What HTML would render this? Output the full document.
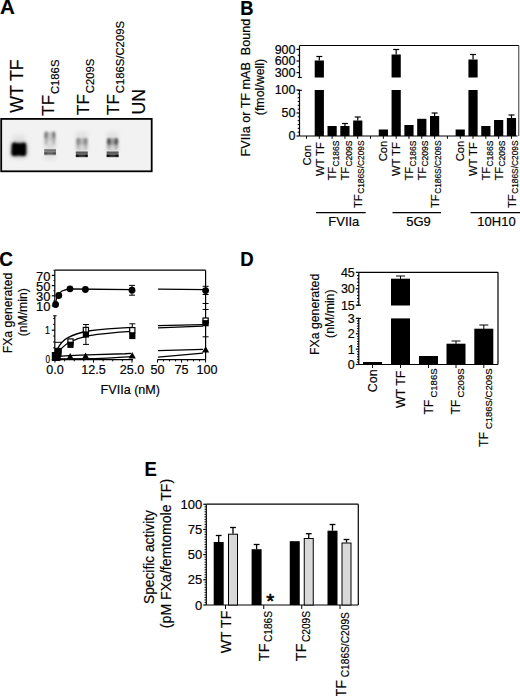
<!DOCTYPE html>
<html><head><meta charset="utf-8"><style>
html,body{margin:0;padding:0;background:#fff;}
svg{display:block;}
text{font-family:"Liberation Sans", sans-serif;fill:#000;stroke:#000;stroke-width:0.18px;}
</style></head><body>
<svg width="520" height="696" viewBox="0 0 520 696">
<defs><filter id="blur1" x="-30%" y="-30%" width="160%" height="160%"><feGaussianBlur stdDeviation="0.95"/></filter><filter id="blur2" x="-50%" y="-50%" width="200%" height="200%"><feGaussianBlur stdDeviation="2"/></filter><filter id="blur3" x="-30%" y="-30%" width="160%" height="160%"><feGaussianBlur stdDeviation="0.6"/></filter>
<linearGradient id="gl3" x1="0" y1="0" x2="0" y2="1">
<stop offset="0" stop-color="#d4d4d4" stop-opacity="0"/>
<stop offset="0.17" stop-color="#707070"/>
<stop offset="0.33" stop-color="#4c4c4c"/>
<stop offset="0.48" stop-color="#808080"/>
<stop offset="0.69" stop-color="#1c1c1c"/>
<stop offset="0.86" stop-color="#555"/>
<stop offset="1" stop-color="#efefef" stop-opacity="0"/>
</linearGradient>
<linearGradient id="gl2" x1="0" y1="0" x2="0" y2="1">
<stop offset="0" stop-color="#d8d8d8" stop-opacity="0"/>
<stop offset="0.16" stop-color="#8c8c8c"/>
<stop offset="0.28" stop-color="#707070"/>
<stop offset="0.44" stop-color="#8a8a8a"/>
<stop offset="0.64" stop-color="#5a5a5a"/>
<stop offset="0.84" stop-color="#9a9a9a"/>
<stop offset="1" stop-color="#e0e0e0" stop-opacity="0"/>
</linearGradient></defs>
<rect width="520" height="696" fill="#fff"/>
<text transform="translate(0.0,14.3)" font-size="20.5" text-anchor="start" font-weight="bold" >A</text>
<text transform="translate(23.4,112.8) rotate(-90)" font-size="17.7" text-anchor="start" >WT TF</text>
<text transform="translate(54.2,115.7) rotate(-90)" font-size="17" >TF<tspan font-size="11.3" dy="5.0" dx="0.8">C186S</tspan></text>
<text transform="translate(89.0,115.0) rotate(-90)" font-size="17" >TF<tspan font-size="11.3" dy="4.7" dx="1.0">C209S</tspan></text>
<text transform="translate(119.0,115.0) rotate(-90)" font-size="17" >TF<tspan font-size="11.3" dy="5.3" dx="1.0">C186S/C209S</tspan></text>
<text transform="translate(144.5,114.4) rotate(-90)" font-size="17.7" text-anchor="start" >UN</text>
<rect x="1.2" y="118.9" width="150.5" height="52.4" fill="#f2f2f2" stroke="#000" stroke-width="1.8"/>
<g filter="url(#blur2)">
<rect x="13" y="135" width="12" height="8" fill="#e2e2e2"/>
<rect x="11" y="142" width="16" height="15" rx="3" fill="#a0a0a0"/>
<rect x="44.5" y="140" width="11" height="9" fill="#d8d8d8"/>
<rect x="44.5" y="155" width="11" height="4" fill="#dcdcdc"/>
<rect x="76" y="132" width="11.5" height="6" fill="#e0e0e0"/>
<rect x="76" y="145" width="11.5" height="6" fill="#d0d0d0"/>
<rect x="107" y="132" width="11" height="6" fill="#e0e0e0"/>
<rect x="107" y="145" width="11" height="6" fill="#cccccc"/>
</g>
<g filter="url(#blur1)">
<path d="M11.8,145.5 Q11.8,142.6 14.4,142.6 Q19,144.2 24,142.4 Q26.2,142.8 26.2,146 L26.2,153 Q26.2,156 23.6,156 Q19,154.8 14.2,156 Q11.4,156 11.4,153 Z" fill="#000"/>
<rect x="44.5" y="132" width="11" height="9" fill="#c8c8c8"/>
<ellipse cx="46.1" cy="138" rx="1.6" ry="7" fill="#b0b0b0"/>
<ellipse cx="53.7" cy="138" rx="1.6" ry="7" fill="#b0b0b0"/>
<ellipse cx="46.1" cy="135" rx="1.7" ry="3.6" fill="#7a7a7a"/>
<ellipse cx="53.7" cy="135" rx="1.7" ry="3.6" fill="#7a7a7a"/>
<rect x="76.2" y="138" width="11.4" height="7.5" fill="#bcbcbc"/>
<ellipse cx="78.1" cy="144" rx="1.6" ry="6" fill="#b4b4b4"/>
<ellipse cx="85.7" cy="144" rx="1.6" ry="6" fill="#b4b4b4"/>
<ellipse cx="78.3" cy="141.3" rx="2" ry="3.6" fill="#8a8a8a"/>
<ellipse cx="85.5" cy="141.3" rx="2" ry="3.6" fill="#8a8a8a"/>
<rect x="107" y="138.3" width="11" height="7.2" fill="#a0a0a0"/>
<ellipse cx="108.8" cy="144" rx="1.6" ry="6" fill="#a8a8a8"/>
<ellipse cx="116.4" cy="144" rx="1.6" ry="6" fill="#a8a8a8"/>
<ellipse cx="108.9" cy="141.6" rx="2" ry="3.5" fill="#555"/>
<ellipse cx="116.3" cy="141.6" rx="2" ry="3.5" fill="#555"/>
</g>
<g filter="url(#blur3)">
<rect x="44.2" y="148.2" width="11.8" height="8" fill="url(#gl2)"/>
<ellipse cx="45.8" cy="153.3" rx="1.5" ry="1.4" fill="#222" opacity="0.3"/>
<ellipse cx="54.2" cy="153.3" rx="1.5" ry="1.4" fill="#222" opacity="0.3"/>
<rect x="75.8" y="150.5" width="12" height="7.5" fill="url(#gl3)"/>
<ellipse cx="77.3" cy="155.8" rx="1.6" ry="1.3" fill="#000" opacity="0.6"/>
<ellipse cx="86.3" cy="155.8" rx="1.6" ry="1.3" fill="#000" opacity="0.6"/>
<rect x="106.6" y="150.5" width="12" height="7.5" fill="url(#gl3)"/>
<ellipse cx="108.1" cy="155.8" rx="1.6" ry="1.3" fill="#000" opacity="0.6"/>
<ellipse cx="117.1" cy="155.8" rx="1.6" ry="1.3" fill="#000" opacity="0.6"/>
</g>
<text transform="translate(240.3,15.0) scale(0.92,1)" font-size="20" text-anchor="start" font-weight="bold" >B</text>
<text transform="translate(250.0,87.6) rotate(-90) scale(1.05,1)" font-size="12.0" text-anchor="middle" >FVIIa or TF mAB&#160; Bound</text>
<text transform="translate(264.0,87) rotate(-90)" font-size="12.4" text-anchor="middle" >(fmol/well)</text>
<line x1="299.5" y1="45.5" x2="519" y2="45.5" stroke="#000" stroke-width="1.2"/>
<line x1="518.7" y1="45.5" x2="518.7" y2="136" stroke="#666" stroke-width="1.3"/>
<line x1="299.5" y1="45.5" x2="299.5" y2="77.5" stroke="#000" stroke-width="1.2"/>
<line x1="296.5" y1="72.625" x2="299.5" y2="72.625" stroke="#000" stroke-width="1.2"/>
<line x1="296.5" y1="61.0" x2="299.5" y2="61.0" stroke="#000" stroke-width="1.2"/>
<line x1="296.5" y1="49.375" x2="299.5" y2="49.375" stroke="#000" stroke-width="1.2"/>
<line x1="297.7" y1="66.8125" x2="299.5" y2="66.8125" stroke="#000" stroke-width="1.0"/>
<line x1="297.7" y1="55.1875" x2="299.5" y2="55.1875" stroke="#000" stroke-width="1.0"/>
<line x1="298.0" y1="77.5" x2="301.8" y2="77.5" stroke="#000" stroke-width="1.1"/>
<line x1="299.5" y1="90" x2="299.5" y2="136" stroke="#000" stroke-width="1.2"/>
<line x1="297.7" y1="90.3" x2="301.9" y2="90.3" stroke="#000" stroke-width="1.1"/>
<line x1="296.5" y1="136.0" x2="299.5" y2="136.0" stroke="#000" stroke-width="1.2"/>
<line x1="296.5" y1="113.0" x2="299.5" y2="113.0" stroke="#000" stroke-width="1.2"/>
<line x1="296.5" y1="90.0" x2="299.5" y2="90.0" stroke="#000" stroke-width="1.2"/>
<line x1="297.7" y1="132.16666666666666" x2="299.5" y2="132.16666666666666" stroke="#000" stroke-width="1.0"/>
<line x1="297.7" y1="128.33333333333334" x2="299.5" y2="128.33333333333334" stroke="#000" stroke-width="1.0"/>
<line x1="297.7" y1="124.5" x2="299.5" y2="124.5" stroke="#000" stroke-width="1.0"/>
<line x1="297.7" y1="120.66666666666666" x2="299.5" y2="120.66666666666666" stroke="#000" stroke-width="1.0"/>
<line x1="297.7" y1="116.83333333333333" x2="299.5" y2="116.83333333333333" stroke="#000" stroke-width="1.0"/>
<line x1="297.7" y1="109.16666666666666" x2="299.5" y2="109.16666666666666" stroke="#000" stroke-width="1.0"/>
<line x1="297.7" y1="105.33333333333333" x2="299.5" y2="105.33333333333333" stroke="#000" stroke-width="1.0"/>
<line x1="297.7" y1="101.5" x2="299.5" y2="101.5" stroke="#000" stroke-width="1.0"/>
<line x1="297.7" y1="97.66666666666666" x2="299.5" y2="97.66666666666666" stroke="#000" stroke-width="1.0"/>
<line x1="297.7" y1="93.83333333333333" x2="299.5" y2="93.83333333333333" stroke="#000" stroke-width="1.0"/>
<text transform="translate(295.5,53.775) scale(1.05,1)" font-size="11.9" text-anchor="end" >900</text>
<text transform="translate(295.5,65.4) scale(1.05,1)" font-size="11.9" text-anchor="end" >600</text>
<text transform="translate(295.5,77.025) scale(1.05,1)" font-size="11.9" text-anchor="end" >300</text>
<text transform="translate(295.5,94.4) scale(1.05,1)" font-size="11.9" text-anchor="end" >100</text>
<text transform="translate(295.5,117.4) scale(1.05,1)" font-size="11.9" text-anchor="end" >50</text>
<text transform="translate(295.5,140.4) scale(1.05,1)" font-size="11.9" text-anchor="end" >0</text>
<line x1="299.5" y1="136" x2="517.6" y2="136" stroke="#000" stroke-width="1.2"/>
<line x1="306.5" y1="136" x2="306.5" y2="138.8" stroke="#000" stroke-width="1"/>
<line x1="319.31" y1="136" x2="319.31" y2="138.8" stroke="#000" stroke-width="1"/>
<line x1="332.12" y1="136" x2="332.12" y2="138.8" stroke="#000" stroke-width="1"/>
<line x1="344.93" y1="136" x2="344.93" y2="138.8" stroke="#000" stroke-width="1"/>
<line x1="357.74" y1="136" x2="357.74" y2="138.8" stroke="#000" stroke-width="1"/>
<line x1="370.55" y1="136" x2="370.55" y2="138.8" stroke="#000" stroke-width="1"/>
<line x1="383.36" y1="136" x2="383.36" y2="138.8" stroke="#000" stroke-width="1"/>
<line x1="396.17" y1="136" x2="396.17" y2="138.8" stroke="#000" stroke-width="1"/>
<line x1="408.98" y1="136" x2="408.98" y2="138.8" stroke="#000" stroke-width="1"/>
<line x1="421.79" y1="136" x2="421.79" y2="138.8" stroke="#000" stroke-width="1"/>
<line x1="434.6" y1="136" x2="434.6" y2="138.8" stroke="#000" stroke-width="1"/>
<line x1="447.40999999999997" y1="136" x2="447.40999999999997" y2="138.8" stroke="#000" stroke-width="1"/>
<line x1="460.22" y1="136" x2="460.22" y2="138.8" stroke="#000" stroke-width="1"/>
<line x1="473.03" y1="136" x2="473.03" y2="138.8" stroke="#000" stroke-width="1"/>
<line x1="485.84000000000003" y1="136" x2="485.84000000000003" y2="138.8" stroke="#000" stroke-width="1"/>
<line x1="498.65" y1="136" x2="498.65" y2="138.8" stroke="#000" stroke-width="1"/>
<line x1="511.46000000000004" y1="136" x2="511.46000000000004" y2="138.8" stroke="#000" stroke-width="1"/>
<rect x="314.71" y="90" width="9.2" height="46" fill="#000"/>
<rect x="314.71" y="60.5" width="9.2" height="17.0" fill="#000"/>
<line x1="319.31" y1="56.5" x2="319.31" y2="60.5" stroke="#000" stroke-width="1.2"/>
<line x1="316.31" y1="56.5" x2="322.31" y2="56.5" stroke="#000" stroke-width="1.2"/>
<rect x="327.52" y="126" width="9.2" height="10" fill="#000"/>
<rect x="340.33" y="126" width="9.2" height="10" fill="#000"/>
<line x1="344.93" y1="123.5" x2="344.93" y2="126" stroke="#000" stroke-width="1.2"/>
<line x1="341.93" y1="123.5" x2="347.93" y2="123.5" stroke="#000" stroke-width="1.2"/>
<rect x="353.14" y="120.5" width="9.2" height="15.5" fill="#000"/>
<line x1="357.74" y1="117" x2="357.74" y2="120.5" stroke="#000" stroke-width="1.2"/>
<line x1="354.74" y1="117" x2="360.74" y2="117" stroke="#000" stroke-width="1.2"/>
<rect x="378.76" y="129.5" width="9.2" height="6.5" fill="#000"/>
<rect x="391.57" y="90" width="9.2" height="46" fill="#000"/>
<rect x="391.57" y="54.5" width="9.2" height="23.0" fill="#000"/>
<line x1="396.17" y1="49.5" x2="396.17" y2="54.5" stroke="#000" stroke-width="1.2"/>
<line x1="393.17" y1="49.5" x2="399.17" y2="49.5" stroke="#000" stroke-width="1.2"/>
<rect x="404.38" y="125" width="9.2" height="11" fill="#000"/>
<rect x="417.19" y="118.8" width="9.2" height="17.200000000000003" fill="#000"/>
<rect x="430.0" y="116" width="9.2" height="20" fill="#000"/>
<line x1="434.6" y1="113" x2="434.6" y2="116" stroke="#000" stroke-width="1.2"/>
<line x1="431.6" y1="113" x2="437.6" y2="113" stroke="#000" stroke-width="1.2"/>
<rect x="455.62" y="129.5" width="9.2" height="6.5" fill="#000"/>
<rect x="468.42999999999995" y="90" width="9.2" height="46" fill="#000"/>
<rect x="468.42999999999995" y="59.5" width="9.2" height="18.0" fill="#000"/>
<line x1="473.03" y1="54.5" x2="473.03" y2="59.5" stroke="#000" stroke-width="1.2"/>
<line x1="470.03" y1="54.5" x2="476.03" y2="54.5" stroke="#000" stroke-width="1.2"/>
<rect x="481.24" y="126" width="9.2" height="10" fill="#000"/>
<rect x="494.04999999999995" y="120" width="9.2" height="16" fill="#000"/>
<rect x="506.86" y="118" width="9.2" height="18" fill="#000"/>
<line x1="511.46000000000004" y1="115" x2="511.46000000000004" y2="118" stroke="#000" stroke-width="1.2"/>
<line x1="508.46000000000004" y1="115" x2="514.46" y2="115" stroke="#000" stroke-width="1.2"/>
<text transform="translate(310.5,165.5) rotate(-90)" font-size="11.2" text-anchor="start" >Con</text>
<text transform="translate(323.51,176) rotate(-90)" font-size="11.2" text-anchor="start" >WT TF</text>
<text transform="translate(336.32,180.5) rotate(-90)" font-size="11.2" >TF<tspan font-size="8.5" dy="2.5" dx="0.3">C186S</tspan></text>
<text transform="translate(349.13,180.5) rotate(-90)" font-size="11.2" >TF<tspan font-size="8.5" dy="2.5" dx="0.3">C209S</tspan></text>
<text transform="translate(361.94,208) rotate(-90)" font-size="11.2" >TF<tspan font-size="8.35" dy="2.5" dx="0.5">C186S/C209S</tspan></text>
<text transform="translate(387.36,161.3) rotate(-90)" font-size="11.2" text-anchor="start" >Con</text>
<text transform="translate(400.37,176) rotate(-90)" font-size="11.2" text-anchor="start" >WT TF</text>
<text transform="translate(413.18,180.5) rotate(-90)" font-size="11.2" >TF<tspan font-size="8.5" dy="2.5" dx="0.3">C186S</tspan></text>
<text transform="translate(425.99,180.5) rotate(-90)" font-size="11.2" >TF<tspan font-size="8.5" dy="2.5" dx="0.3">C209S</tspan></text>
<text transform="translate(438.8,208) rotate(-90)" font-size="11.2" >TF<tspan font-size="8.35" dy="2.5" dx="0.5">C186S/C209S</tspan></text>
<text transform="translate(464.22,161.3) rotate(-90)" font-size="11.2" text-anchor="start" >Con</text>
<text transform="translate(477.23,176) rotate(-90)" font-size="11.2" text-anchor="start" >WT TF</text>
<text transform="translate(490.04,180.5) rotate(-90)" font-size="11.2" >TF<tspan font-size="8.5" dy="2.5" dx="0.3">C186S</tspan></text>
<text transform="translate(502.85,180.5) rotate(-90)" font-size="11.2" >TF<tspan font-size="8.5" dy="2.5" dx="0.3">C209S</tspan></text>
<text transform="translate(515.6600000000001,208) rotate(-90)" font-size="11.2" >TF<tspan font-size="8.35" dy="2.5" dx="0.5">C186S/C209S</tspan></text>
<line x1="316" y1="212.6" x2="365.7" y2="212.6" stroke="#000" stroke-width="1.2"/>
<line x1="392.5" y1="212.6" x2="441" y2="212.6" stroke="#000" stroke-width="1.2"/>
<line x1="470.5" y1="212.6" x2="520" y2="212.6" stroke="#000" stroke-width="1.2"/>
<text transform="translate(343.8,225.6) scale(1.05,1)" font-size="12.4" text-anchor="middle" >FVIIa</text>
<text transform="translate(418.5,225.6) scale(1.05,1)" font-size="12.4" text-anchor="middle" >5G9</text>
<text transform="translate(496.5,225.6) scale(1.05,1)" font-size="12.4" text-anchor="middle" >10H10</text>
<text transform="translate(-0.8,266.1) scale(0.95,1)" font-size="20" text-anchor="start" font-weight="bold" >C</text>
<text transform="translate(12.2,313) rotate(-90)" font-size="12.2" text-anchor="middle" >FXa generated</text>
<text transform="translate(27.2,312.3) rotate(-90)" font-size="12.2" text-anchor="middle" >(nM/min)</text>
<line x1="54.8" y1="270.2" x2="205.6" y2="270.2" stroke="#000" stroke-width="1.2"/>
<line x1="205.6" y1="270.2" x2="205.6" y2="359.6" stroke="#000" stroke-width="1.2"/>
<line x1="54.8" y1="270.2" x2="54.8" y2="306" stroke="#000" stroke-width="1.2"/>
<line x1="51.8" y1="275.4" x2="54.8" y2="275.4" stroke="#000" stroke-width="1.2"/>
<line x1="51.8" y1="285.6" x2="54.8" y2="285.6" stroke="#000" stroke-width="1.2"/>
<line x1="51.8" y1="295.8" x2="54.8" y2="295.8" stroke="#000" stroke-width="1.2"/>
<line x1="51.8" y1="306.0" x2="54.8" y2="306.0" stroke="#000" stroke-width="1.2"/>
<line x1="53.3" y1="270.3" x2="54.8" y2="270.3" stroke="#000" stroke-width="0.8"/>
<line x1="53.3" y1="280.5" x2="54.8" y2="280.5" stroke="#000" stroke-width="0.8"/>
<line x1="53.3" y1="290.7" x2="54.8" y2="290.7" stroke="#000" stroke-width="0.8"/>
<line x1="53.3" y1="300.9" x2="54.8" y2="300.9" stroke="#000" stroke-width="0.8"/>
<text transform="translate(50.5,280.59999999999997) scale(1.08,1)" font-size="12" text-anchor="end" >70</text>
<text transform="translate(50.5,290.8) scale(1.08,1)" font-size="12" text-anchor="end" >50</text>
<text transform="translate(50.5,301.0) scale(1.08,1)" font-size="12" text-anchor="end" >30</text>
<text transform="translate(50.5,311.2) scale(1.08,1)" font-size="12" text-anchor="end" >10</text>
<line x1="54.8" y1="315.8" x2="54.8" y2="359.6" stroke="#000" stroke-width="1.2"/>
<line x1="53.199999999999996" y1="315.8" x2="56.599999999999994" y2="315.8" stroke="#000" stroke-width="1.1"/>
<line x1="51.8" y1="359.6" x2="54.8" y2="359.6" stroke="#000" stroke-width="1.2"/>
<line x1="51.8" y1="330.20000000000005" x2="54.8" y2="330.20000000000005" stroke="#000" stroke-width="1.2"/>
<line x1="53.0" y1="353.72" x2="54.8" y2="353.72" stroke="#000" stroke-width="0.9"/>
<line x1="53.0" y1="347.84000000000003" x2="54.8" y2="347.84000000000003" stroke="#000" stroke-width="0.9"/>
<line x1="53.0" y1="341.96000000000004" x2="54.8" y2="341.96000000000004" stroke="#000" stroke-width="0.9"/>
<line x1="53.0" y1="336.08000000000004" x2="54.8" y2="336.08000000000004" stroke="#000" stroke-width="0.9"/>
<line x1="53.0" y1="324.32000000000005" x2="54.8" y2="324.32000000000005" stroke="#000" stroke-width="0.9"/>
<line x1="53.0" y1="318.44000000000005" x2="54.8" y2="318.44000000000005" stroke="#000" stroke-width="0.9"/>
<text transform="translate(50.0,333.80000000000007) scale(0.85,1)" font-size="10.5" text-anchor="end" >1</text>
<text transform="translate(50.0,362.90000000000003) scale(0.78,1)" font-size="10.5" text-anchor="end" >0</text>
<line x1="54.8" y1="359.6" x2="133" y2="359.6" stroke="#000" stroke-width="1.2"/>
<line x1="157.5" y1="359.6" x2="205.6" y2="359.6" stroke="#000" stroke-width="1.2"/>
<line x1="55.0" y1="359.6" x2="55.0" y2="362.6" stroke="#000" stroke-width="1"/>
<line x1="64.625" y1="359.6" x2="64.625" y2="361.40000000000003" stroke="#000" stroke-width="1"/>
<line x1="74.25" y1="359.6" x2="74.25" y2="361.40000000000003" stroke="#000" stroke-width="1"/>
<line x1="83.875" y1="359.6" x2="83.875" y2="361.40000000000003" stroke="#000" stroke-width="1"/>
<line x1="93.5" y1="359.6" x2="93.5" y2="362.6" stroke="#000" stroke-width="1"/>
<line x1="103.125" y1="359.6" x2="103.125" y2="361.40000000000003" stroke="#000" stroke-width="1"/>
<line x1="112.75" y1="359.6" x2="112.75" y2="361.40000000000003" stroke="#000" stroke-width="1"/>
<line x1="122.375" y1="359.6" x2="122.375" y2="361.40000000000003" stroke="#000" stroke-width="1"/>
<line x1="132.0" y1="359.6" x2="132.0" y2="362.6" stroke="#000" stroke-width="1"/>
<line x1="157.5" y1="359.6" x2="157.5" y2="362.6" stroke="#000" stroke-width="1"/>
<line x1="163.5125" y1="359.6" x2="163.5125" y2="361.40000000000003" stroke="#000" stroke-width="1"/>
<line x1="169.525" y1="359.6" x2="169.525" y2="361.40000000000003" stroke="#000" stroke-width="1"/>
<line x1="175.5375" y1="359.6" x2="175.5375" y2="361.40000000000003" stroke="#000" stroke-width="1"/>
<line x1="181.55" y1="359.6" x2="181.55" y2="362.6" stroke="#000" stroke-width="1"/>
<line x1="187.5625" y1="359.6" x2="187.5625" y2="361.40000000000003" stroke="#000" stroke-width="1"/>
<line x1="193.575" y1="359.6" x2="193.575" y2="361.40000000000003" stroke="#000" stroke-width="1"/>
<line x1="199.5875" y1="359.6" x2="199.5875" y2="361.40000000000003" stroke="#000" stroke-width="1"/>
<line x1="205.6" y1="359.6" x2="205.6" y2="362.6" stroke="#000" stroke-width="1"/>
<text transform="translate(55.0,374.4)" font-size="12.6" text-anchor="middle" >0.0</text>
<text transform="translate(93.5,374.4)" font-size="12.6" text-anchor="middle" >12.5</text>
<text transform="translate(132.0,374.4)" font-size="12.6" text-anchor="middle" >25.0</text>
<text transform="translate(157.5,374.4)" font-size="12.6" text-anchor="middle" >50</text>
<text transform="translate(181.55,374.4)" font-size="12.6" text-anchor="middle" >75</text>
<text transform="translate(206.9,374.4)" font-size="12.6" text-anchor="middle" >100</text>
<text transform="translate(130.3,393.5)" font-size="12.6" text-anchor="middle" >FVIIa (nM)</text>
<g fill="none" stroke="#000" stroke-width="1.3">
<path d="M55.2,306 C56,298 58,293 62,291 C65,289.5 68,289 72,289 L132,289.6"/>
<path d="M158,289.2 L205.6,289.6"/>
<path d="M56.5,351 C60,343 64,339.5 68,337.6 C74,334.5 80,332.5 88,331 C100,329.2 115,328 132,327.3"/>
<path d="M56.5,356 C60,349 64,345 70,342 C76,339 82,337 88,335.8 C100,333.8 115,332.3 132,331.3"/>
<path d="M158,325.6 L203,324.6"/>
<path d="M158,327.9 L203,326.2"/>
<path d="M57,357 C62,355.6 75,355 95,354.6 L125,353.75 L131,353.4"/>
<path d="M57,358.9 L95,358.6 C110,358.2 120,357.3 131,356.6"/>
<path d="M158,350.6 L203,349.4"/>
<path d="M158,357.2 L203,353.1"/>
</g>
<circle cx="55.6" cy="304.5" r="3.4" fill="#000"/>
<circle cx="58.8" cy="295.5" r="3.4" fill="#000"/>
<circle cx="70" cy="288.8" r="3.4" fill="#000"/>
<circle cx="85.4" cy="289.5" r="3.4" fill="#000"/>
<circle cx="132" cy="290.2" r="3.4" fill="#000"/>
<circle cx="205.6" cy="290.6" r="3.4" fill="#000"/>
<line x1="132" y1="285.4" x2="132" y2="295.2" stroke="#000" stroke-width="1"/>
<line x1="129" y1="285.4" x2="135" y2="285.4" stroke="#000" stroke-width="1"/>
<line x1="129" y1="295.2" x2="135" y2="295.2" stroke="#000" stroke-width="1"/>
<line x1="205.6" y1="286.3" x2="205.6" y2="294.5" stroke="#000" stroke-width="1"/>
<line x1="202.6" y1="286.3" x2="208.6" y2="286.3" stroke="#000" stroke-width="1"/>
<line x1="202.6" y1="294.5" x2="208.6" y2="294.5" stroke="#000" stroke-width="1"/>
<rect x="67.9" y="338.9" width="5.2" height="5.2" fill="#fff" stroke="#000" stroke-width="1.2"/>
<rect x="83.30000000000001" y="327.4" width="5.2" height="5.2" fill="#fff" stroke="#000" stroke-width="1.2"/>
<rect x="129.70000000000002" y="327.59999999999997" width="5.2" height="5.2" fill="#fff" stroke="#000" stroke-width="1.2"/>
<rect x="203.0" y="318.0" width="5.2" height="5.2" fill="#fff" stroke="#000" stroke-width="1.2"/>
<rect x="52.4" y="352.9" width="6.2" height="6.2" fill="#000"/>
<rect x="55.4" y="349.9" width="6.2" height="6.2" fill="#000"/>
<rect x="67.4" y="341.7" width="6.2" height="6.2" fill="#000"/>
<rect x="82.80000000000001" y="331.4" width="6.2" height="6.2" fill="#000"/>
<rect x="129.20000000000002" y="332.9" width="6.2" height="6.2" fill="#000"/>
<rect x="202.5" y="320.09999999999997" width="6.2" height="6.2" fill="#000"/>
<rect x="51.8" y="352" width="8.6" height="9.0" fill="#000"/>
<rect x="55" y="347.8" width="6.6" height="5.6" fill="#000"/>
<line x1="85.9" y1="324.5" x2="85.9" y2="344.4" stroke="#000" stroke-width="1"/>
<line x1="83" y1="324.5" x2="89" y2="324.5" stroke="#000" stroke-width="1"/>
<line x1="83" y1="344.4" x2="89" y2="344.4" stroke="#000" stroke-width="1"/>
<line x1="132.3" y1="323.8" x2="132.3" y2="327" stroke="#000" stroke-width="1"/>
<line x1="129.3" y1="323.8" x2="135.3" y2="323.8" stroke="#000" stroke-width="1"/>
<line x1="55" y1="342.3" x2="61.8" y2="342.3" stroke="#000" stroke-width="1"/>
<line x1="202.6" y1="303.5" x2="208.6" y2="303.5" stroke="#000" stroke-width="1"/>
<line x1="202.6" y1="309.5" x2="208.6" y2="309.5" stroke="#000" stroke-width="1"/>
<line x1="202.6" y1="336.8" x2="208.6" y2="336.8" stroke="#000" stroke-width="1"/>
<path d="M55.5,354.14 L58.75,359.86 L52.25,359.86 Z" fill="#000"/>
<path d="M58.6,354.14 L61.85,359.86 L55.35,359.86 Z" fill="#000"/>
<path d="M70.2,352.94 L73.45,358.66 L66.95,358.66 Z" fill="#000"/>
<path d="M85.6,352.53999999999996 L88.85,358.26 L82.35,358.26 Z" fill="#000"/>
<path d="M132.2,352.088 L135.85,358.512 L128.54999999999998,358.512 Z" fill="#000"/>
<path d="M205.6,346.23199999999997 L209.2,352.568 L202.0,352.568 Z" fill="#000"/>
<text transform="translate(240.2,266.2) scale(0.93,1)" font-size="20" text-anchor="start" font-weight="bold" >D</text>
<text transform="translate(319.2,314.4) rotate(-90)" font-size="12.3" text-anchor="middle" >FXa generated</text>
<text transform="translate(333.5,313.7) rotate(-90)" font-size="12.3" text-anchor="middle" >(nM/min)</text>
<line x1="358.8" y1="272.3" x2="498" y2="272.3" stroke="#000" stroke-width="1.2"/>
<line x1="498" y1="272.3" x2="498" y2="364.5" stroke="#000" stroke-width="1.2"/>
<line x1="358.8" y1="272.3" x2="358.8" y2="305.2" stroke="#000" stroke-width="1.2"/>
<line x1="358.8" y1="318.4" x2="358.8" y2="364.5" stroke="#000" stroke-width="1.2"/>
<line x1="358.8" y1="364.5" x2="498" y2="364.5" stroke="#000" stroke-width="1.2"/>
<line x1="356.8" y1="305.2" x2="361.0" y2="305.2" stroke="#000" stroke-width="1.1"/>
<line x1="356.8" y1="318.4" x2="361.0" y2="318.4" stroke="#000" stroke-width="1.1"/>
<line x1="355.8" y1="272.3" x2="358.8" y2="272.3" stroke="#000" stroke-width="1.2"/>
<text transform="translate(354.8,276.7)" font-size="12.5" text-anchor="end" >45</text>
<line x1="355.8" y1="288.75" x2="358.8" y2="288.75" stroke="#000" stroke-width="1.2"/>
<text transform="translate(354.8,293.15)" font-size="12.5" text-anchor="end" >30</text>
<line x1="355.8" y1="305.2" x2="358.8" y2="305.2" stroke="#000" stroke-width="1.2"/>
<text transform="translate(354.8,309.59999999999997)" font-size="12.5" text-anchor="end" >15</text>
<line x1="357.0" y1="301.91" x2="358.8" y2="301.91" stroke="#000" stroke-width="1.0"/>
<line x1="357.0" y1="298.62" x2="358.8" y2="298.62" stroke="#000" stroke-width="1.0"/>
<line x1="357.0" y1="295.33000000000004" x2="358.8" y2="295.33000000000004" stroke="#000" stroke-width="1.0"/>
<line x1="357.0" y1="292.04" x2="358.8" y2="292.04" stroke="#000" stroke-width="1.0"/>
<line x1="357.0" y1="285.46000000000004" x2="358.8" y2="285.46000000000004" stroke="#000" stroke-width="1.0"/>
<line x1="357.0" y1="282.17" x2="358.8" y2="282.17" stroke="#000" stroke-width="1.0"/>
<line x1="357.0" y1="278.88" x2="358.8" y2="278.88" stroke="#000" stroke-width="1.0"/>
<line x1="357.0" y1="275.59000000000003" x2="358.8" y2="275.59000000000003" stroke="#000" stroke-width="1.0"/>
<line x1="355.8" y1="364.5" x2="358.8" y2="364.5" stroke="#000" stroke-width="1.2"/>
<text transform="translate(354.8,368.9)" font-size="12.5" text-anchor="end" >0</text>
<line x1="355.8" y1="349.13" x2="358.8" y2="349.13" stroke="#000" stroke-width="1.2"/>
<text transform="translate(354.8,353.53)" font-size="12.5" text-anchor="end" >1</text>
<line x1="355.8" y1="333.76" x2="358.8" y2="333.76" stroke="#000" stroke-width="1.2"/>
<text transform="translate(354.8,338.15999999999997)" font-size="12.5" text-anchor="end" >2</text>
<line x1="355.8" y1="318.39" x2="358.8" y2="318.39" stroke="#000" stroke-width="1.2"/>
<text transform="translate(354.8,322.78999999999996)" font-size="12.5" text-anchor="end" >3</text>
<line x1="357.0" y1="361.93833333333333" x2="358.8" y2="361.93833333333333" stroke="#000" stroke-width="1.0"/>
<line x1="357.0" y1="359.37666666666667" x2="358.8" y2="359.37666666666667" stroke="#000" stroke-width="1.0"/>
<line x1="357.0" y1="356.815" x2="358.8" y2="356.815" stroke="#000" stroke-width="1.0"/>
<line x1="357.0" y1="354.25333333333333" x2="358.8" y2="354.25333333333333" stroke="#000" stroke-width="1.0"/>
<line x1="357.0" y1="351.69166666666666" x2="358.8" y2="351.69166666666666" stroke="#000" stroke-width="1.0"/>
<line x1="357.0" y1="346.5683333333333" x2="358.8" y2="346.5683333333333" stroke="#000" stroke-width="1.0"/>
<line x1="357.0" y1="344.00666666666666" x2="358.8" y2="344.00666666666666" stroke="#000" stroke-width="1.0"/>
<line x1="357.0" y1="341.445" x2="358.8" y2="341.445" stroke="#000" stroke-width="1.0"/>
<line x1="357.0" y1="338.8833333333333" x2="358.8" y2="338.8833333333333" stroke="#000" stroke-width="1.0"/>
<line x1="357.0" y1="336.32166666666666" x2="358.8" y2="336.32166666666666" stroke="#000" stroke-width="1.0"/>
<line x1="357.0" y1="331.1983333333333" x2="358.8" y2="331.1983333333333" stroke="#000" stroke-width="1.0"/>
<line x1="357.0" y1="328.63666666666666" x2="358.8" y2="328.63666666666666" stroke="#000" stroke-width="1.0"/>
<line x1="357.0" y1="326.075" x2="358.8" y2="326.075" stroke="#000" stroke-width="1.0"/>
<line x1="357.0" y1="323.5133333333333" x2="358.8" y2="323.5133333333333" stroke="#000" stroke-width="1.0"/>
<line x1="357.0" y1="320.95166666666665" x2="358.8" y2="320.95166666666665" stroke="#000" stroke-width="1.0"/>
<line x1="372.5" y1="364.5" x2="372.5" y2="368" stroke="#000" stroke-width="1"/>
<line x1="400.5" y1="364.5" x2="400.5" y2="368" stroke="#000" stroke-width="1"/>
<line x1="428.5" y1="364.5" x2="428.5" y2="368" stroke="#000" stroke-width="1"/>
<line x1="456" y1="364.5" x2="456" y2="368" stroke="#000" stroke-width="1"/>
<line x1="483.8" y1="364.5" x2="483.8" y2="368" stroke="#000" stroke-width="1"/>
<rect x="363.0" y="362" width="19" height="2.5" fill="#000"/>
<rect x="391.0" y="278.7" width="19" height="26.80000000000001" fill="#000"/>
<rect x="391.0" y="318.4" width="19" height="46.10000000000002" fill="#000"/>
<line x1="400.5" y1="276" x2="400.5" y2="279" stroke="#000" stroke-width="1"/>
<line x1="396.0" y1="276" x2="405.0" y2="276" stroke="#000" stroke-width="1"/>
<rect x="419.0" y="356" width="19" height="8.5" fill="#000"/>
<rect x="446.5" y="343.7" width="19" height="20.80000000000001" fill="#000"/>
<line x1="456" y1="341" x2="456" y2="344" stroke="#000" stroke-width="1"/>
<line x1="451.5" y1="341" x2="460.5" y2="341" stroke="#000" stroke-width="1"/>
<rect x="474.3" y="328.7" width="19" height="35.80000000000001" fill="#000"/>
<line x1="483.8" y1="325" x2="483.8" y2="329" stroke="#000" stroke-width="1"/>
<line x1="479.3" y1="325" x2="488.3" y2="325" stroke="#000" stroke-width="1"/>
<text transform="translate(377.1,392.2) rotate(-90)" font-size="12.4" text-anchor="start" >Con</text>
<text transform="translate(405.0,408.0) rotate(-90)" font-size="12.4" text-anchor="start" >WT TF</text>
<text transform="translate(432.8,414.6) rotate(-90)" font-size="12.2" >TF<tspan font-size="9.5" dy="3.8" dx="2.2">C186S</tspan></text>
<text transform="translate(460.3,414.6) rotate(-90)" font-size="12.2" >TF<tspan font-size="9.5" dy="3.8" dx="2.2">C209S</tspan></text>
<text transform="translate(488.1,447.0) rotate(-90)" font-size="12.2" >TF<tspan font-size="9.5" dy="3.8" dx="3.0">C186S/C209S</tspan></text>
<text transform="translate(144.4,476.4) scale(0.93,1)" font-size="19.8" text-anchor="start" font-weight="bold" >E</text>
<text transform="translate(154.1,557.0) rotate(-90)" font-size="13.75" text-anchor="middle" >Specific activity</text>
<text transform="translate(170.8,553.5) rotate(-90)" font-size="14.1" text-anchor="middle" >(pM FXa/femtomole TF)</text>
<line x1="206.3" y1="504.2" x2="358.3" y2="504.2" stroke="#000" stroke-width="1.2"/>
<line x1="358.3" y1="504.2" x2="358.3" y2="605" stroke="#000" stroke-width="1.2"/>
<line x1="206.3" y1="504.2" x2="206.3" y2="605" stroke="#000" stroke-width="1.2"/>
<line x1="206.3" y1="605" x2="358.3" y2="605" stroke="#000" stroke-width="1.2"/>
<line x1="203.3" y1="605.0" x2="206.3" y2="605.0" stroke="#000" stroke-width="1.2"/>
<text transform="translate(202.3,609.5)" font-size="13" text-anchor="end" >0</text>
<line x1="203.3" y1="579.8125" x2="206.3" y2="579.8125" stroke="#000" stroke-width="1.2"/>
<text transform="translate(202.3,584.3125)" font-size="13" text-anchor="end" >25</text>
<line x1="203.3" y1="554.625" x2="206.3" y2="554.625" stroke="#000" stroke-width="1.2"/>
<text transform="translate(202.3,559.125)" font-size="13" text-anchor="end" >50</text>
<line x1="203.3" y1="529.4375" x2="206.3" y2="529.4375" stroke="#000" stroke-width="1.2"/>
<text transform="translate(202.3,533.9375)" font-size="13" text-anchor="end" >75</text>
<line x1="203.3" y1="504.25" x2="206.3" y2="504.25" stroke="#000" stroke-width="1.2"/>
<text transform="translate(202.3,508.75)" font-size="13" text-anchor="end" >100</text>
<line x1="204.5" y1="602.48125" x2="206.3" y2="602.48125" stroke="#000" stroke-width="0.9"/>
<line x1="204.5" y1="599.9625" x2="206.3" y2="599.9625" stroke="#000" stroke-width="0.9"/>
<line x1="204.5" y1="597.44375" x2="206.3" y2="597.44375" stroke="#000" stroke-width="0.9"/>
<line x1="204.5" y1="594.925" x2="206.3" y2="594.925" stroke="#000" stroke-width="0.9"/>
<line x1="204.5" y1="592.40625" x2="206.3" y2="592.40625" stroke="#000" stroke-width="0.9"/>
<line x1="204.5" y1="589.8875" x2="206.3" y2="589.8875" stroke="#000" stroke-width="0.9"/>
<line x1="204.5" y1="587.36875" x2="206.3" y2="587.36875" stroke="#000" stroke-width="0.9"/>
<line x1="204.5" y1="584.85" x2="206.3" y2="584.85" stroke="#000" stroke-width="0.9"/>
<line x1="204.5" y1="582.33125" x2="206.3" y2="582.33125" stroke="#000" stroke-width="0.9"/>
<line x1="204.5" y1="577.29375" x2="206.3" y2="577.29375" stroke="#000" stroke-width="0.9"/>
<line x1="204.5" y1="574.775" x2="206.3" y2="574.775" stroke="#000" stroke-width="0.9"/>
<line x1="204.5" y1="572.25625" x2="206.3" y2="572.25625" stroke="#000" stroke-width="0.9"/>
<line x1="204.5" y1="569.7375" x2="206.3" y2="569.7375" stroke="#000" stroke-width="0.9"/>
<line x1="204.5" y1="567.21875" x2="206.3" y2="567.21875" stroke="#000" stroke-width="0.9"/>
<line x1="204.5" y1="564.7" x2="206.3" y2="564.7" stroke="#000" stroke-width="0.9"/>
<line x1="204.5" y1="562.18125" x2="206.3" y2="562.18125" stroke="#000" stroke-width="0.9"/>
<line x1="204.5" y1="559.6625" x2="206.3" y2="559.6625" stroke="#000" stroke-width="0.9"/>
<line x1="204.5" y1="557.14375" x2="206.3" y2="557.14375" stroke="#000" stroke-width="0.9"/>
<line x1="204.5" y1="552.10625" x2="206.3" y2="552.10625" stroke="#000" stroke-width="0.9"/>
<line x1="204.5" y1="549.5875" x2="206.3" y2="549.5875" stroke="#000" stroke-width="0.9"/>
<line x1="204.5" y1="547.06875" x2="206.3" y2="547.06875" stroke="#000" stroke-width="0.9"/>
<line x1="204.5" y1="544.55" x2="206.3" y2="544.55" stroke="#000" stroke-width="0.9"/>
<line x1="204.5" y1="542.03125" x2="206.3" y2="542.03125" stroke="#000" stroke-width="0.9"/>
<line x1="204.5" y1="539.5125" x2="206.3" y2="539.5125" stroke="#000" stroke-width="0.9"/>
<line x1="204.5" y1="536.99375" x2="206.3" y2="536.99375" stroke="#000" stroke-width="0.9"/>
<line x1="204.5" y1="534.475" x2="206.3" y2="534.475" stroke="#000" stroke-width="0.9"/>
<line x1="204.5" y1="531.95625" x2="206.3" y2="531.95625" stroke="#000" stroke-width="0.9"/>
<line x1="204.5" y1="526.91875" x2="206.3" y2="526.91875" stroke="#000" stroke-width="0.9"/>
<line x1="204.5" y1="524.4" x2="206.3" y2="524.4" stroke="#000" stroke-width="0.9"/>
<line x1="204.5" y1="521.88125" x2="206.3" y2="521.88125" stroke="#000" stroke-width="0.9"/>
<line x1="204.5" y1="519.3625" x2="206.3" y2="519.3625" stroke="#000" stroke-width="0.9"/>
<line x1="204.5" y1="516.84375" x2="206.3" y2="516.84375" stroke="#000" stroke-width="0.9"/>
<line x1="204.5" y1="514.325" x2="206.3" y2="514.325" stroke="#000" stroke-width="0.9"/>
<line x1="204.5" y1="511.80625" x2="206.3" y2="511.80625" stroke="#000" stroke-width="0.9"/>
<line x1="204.5" y1="509.2875" x2="206.3" y2="509.2875" stroke="#000" stroke-width="0.9"/>
<line x1="204.5" y1="506.76875" x2="206.3" y2="506.76875" stroke="#000" stroke-width="0.9"/>
<line x1="225.5" y1="605" x2="225.5" y2="609" stroke="#000" stroke-width="1"/>
<line x1="263.75" y1="605" x2="263.75" y2="609" stroke="#000" stroke-width="1"/>
<line x1="301.75" y1="605" x2="301.75" y2="609" stroke="#000" stroke-width="1"/>
<line x1="340" y1="605" x2="340" y2="609" stroke="#000" stroke-width="1"/>
<rect x="213.7" y="542" width="10" height="63" fill="#000"/>
<line x1="218.7" y1="535.5" x2="218.7" y2="542" stroke="#000" stroke-width="1.3"/>
<line x1="215.79999999999998" y1="535.5" x2="221.6" y2="535.5" stroke="#000" stroke-width="1.3"/>
<rect x="228.5" y="534.2" width="9" height="70.79999999999995" fill="#d9d9d9" stroke="#000" stroke-width="1"/>
<line x1="233" y1="527.5" x2="233" y2="533.7" stroke="#000" stroke-width="1.3"/>
<line x1="230.1" y1="527.5" x2="235.9" y2="527.5" stroke="#000" stroke-width="1.3"/>
<rect x="251.60000000000002" y="549.2" width="10" height="55.799999999999955" fill="#000"/>
<line x1="256.6" y1="544.5" x2="256.6" y2="549.2" stroke="#000" stroke-width="1.3"/>
<line x1="253.70000000000002" y1="544.5" x2="259.5" y2="544.5" stroke="#000" stroke-width="1.3"/>
<rect x="289.75" y="541.2" width="10" height="63.799999999999955" fill="#000"/>
<rect x="304.25" y="538.5" width="9" height="66.5" fill="#d9d9d9" stroke="#000" stroke-width="1"/>
<line x1="308.75" y1="533.7" x2="308.75" y2="538" stroke="#000" stroke-width="1.3"/>
<line x1="305.85" y1="533.7" x2="311.65" y2="533.7" stroke="#000" stroke-width="1.3"/>
<rect x="327.5" y="530.7" width="10" height="74.29999999999995" fill="#000"/>
<line x1="332.5" y1="524.5" x2="332.5" y2="530.7" stroke="#000" stroke-width="1.3"/>
<line x1="329.6" y1="524.5" x2="335.4" y2="524.5" stroke="#000" stroke-width="1.3"/>
<rect x="342.0" y="543.0" width="9" height="62.0" fill="#d9d9d9" stroke="#000" stroke-width="1"/>
<line x1="346.5" y1="539.5" x2="346.5" y2="542.5" stroke="#000" stroke-width="1.3"/>
<line x1="343.6" y1="539.5" x2="349.4" y2="539.5" stroke="#000" stroke-width="1.3"/>
<text transform="translate(270.2,607.9)" font-size="20.5" text-anchor="middle" style="stroke-width:0.6px">*</text>
<text transform="translate(230.5,653.2) rotate(-90)" font-size="14.1" text-anchor="start" >WT TF</text>
<text transform="translate(268.6,661.2) rotate(-90)" font-size="14.5" >TF<tspan font-size="10.2" dy="3.6" dx="1.4">C186S</tspan></text>
<text transform="translate(306.4,661.2) rotate(-90)" font-size="14.5" >TF<tspan font-size="10.2" dy="3.6" dx="1.4">C209S</tspan></text>
<text transform="translate(345.7,697.6) rotate(-90)" font-size="14.5" >TF<tspan font-size="10.2" dy="3.6" dx="2.6">C186S/C209S</tspan></text>
</svg>
</body></html>
